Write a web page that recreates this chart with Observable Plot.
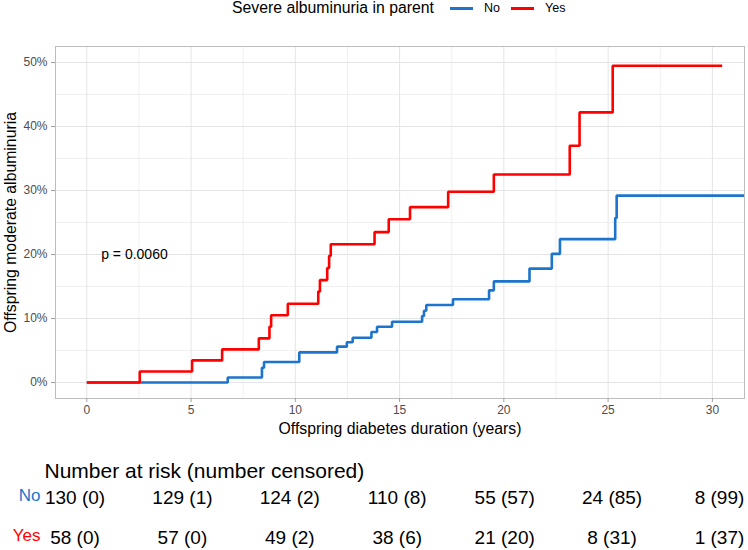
<!DOCTYPE html>
<html>
<head>
<meta charset="utf-8">
<script src="https://cdn.jsdelivr.net/npm/d3@7"></script>
<script src="https://cdn.jsdelivr.net/npm/@observablehq/plot@0.6"></script>
<style>
  body { margin: 0; background: #fff; font-family: "Liberation Sans", Arial, Helvetica, sans-serif; }
  #chart { width: 748px; height: 550px; position: relative; overflow: hidden; background: #fff; }
  .legend { position: relative; height: 30px; }
  .legend span { position: absolute; top: 0; line-height: 16px; white-space: nowrap; color: #000; }
  .legend .key { position: absolute; top: 7px; width: 23px; height: 2.6px; }
  svg { display: block; }
</style>
</head>
<body>
<div id="chart"></div>
<script>
// Strata and their colours
const groups = ["No", "Yes"];
const groupColors = ["#1c74cd", "#ff0000"];

// Cumulative incidence of moderate albuminuria (1 - KM survival), parent without severe albuminuria
const noTime = [0, 6.76, 8.4, 8.5, 10.19, 12.0, 12.47, 12.75, 13.65, 13.92, 14.64, 16.08, 16.17, 16.28, 17.56, 19.29, 19.52, 21.23, 22.3, 22.69, 25.34, 25.41, 31.54];
const noInc = [0, 0.0078, 0.023, 0.032, 0.047, 0.056, 0.063, 0.070, 0.079, 0.087, 0.095, 0.104, 0.112, 0.121, 0.130, 0.144, 0.158, 0.178, 0.201, 0.224, 0.257, 0.292, 0.292];

// Parent with severe albuminuria
const yesTime = [0, 2.54, 5.05, 6.49, 8.25, 8.76, 8.84, 9.64, 11.1, 11.18, 11.53, 11.62, 11.7, 13.8, 14.48, 15.5, 17.33, 19.52, 23.16, 23.63, 25.22, 30.47];
const yesInc = [0, 0.0172, 0.0345, 0.0517, 0.069, 0.087, 0.105, 0.123, 0.142, 0.160, 0.179, 0.198, 0.216, 0.235, 0.255, 0.274, 0.298, 0.325, 0.370, 0.422, 0.495, 0.495];

// Axis ticks and grid
const xTicks = [0, 5, 10, 15, 20, 25, 30];
const xMinor = [2.5, 7.5, 12.5, 17.5, 22.5, 27.5];
const yTicks = [0, 0.1, 0.2, 0.3, 0.4, 0.5];
const yMinor = [0.05, 0.15, 0.25, 0.35, 0.45];

// Number at risk table
const riskTimes = [0, 5, 10, 15, 20, 25, 30];
const atRiskNo = [130, 129, 124, 110, 55, 24, 8];
const censoredNo = [0, 1, 2, 8, 57, 85, 99];
const atRiskYes = [58, 57, 49, 38, 21, 8, 1];
const censoredYes = [0, 0, 2, 6, 20, 31, 37];

const pValueText = "p = 0.0060";

const font = "'Liberation Sans', Arial, Helvetica, sans-serif";

const curveRows = [
  ...noTime.map((t, i) => ({group: "No", time: t, inc: noInc[i]})),
  ...yesTime.map((t, i) => ({group: "Yes", time: t, inc: yesInc[i]}))
];

const riskRows = [
  ...riskTimes.map((t, i) => ({group: "No", time: t, label: `${atRiskNo[i]} (${censoredNo[i]})`})),
  ...riskTimes.map((t, i) => ({group: "Yes", time: t, label: `${atRiskYes[i]} (${censoredYes[i]})`}))
];

const chart = document.getElementById("chart");

// Legend row
const legend = document.createElement("div");
legend.className = "legend";
legend.innerHTML = `
  <span style="left:232px;font-size:15.8px">Severe albuminuria in parent</span>
  <div class="key" style="left:450px;background:${groupColors[0]}"></div>
  <span style="left:484px;font-size:12.5px">${groups[0]}</span>
  <div class="key" style="left:511px;background:${groupColors[1]}"></div>
  <span style="left:545px;font-size:12.5px">${groups[1]}</span>`;
chart.appendChild(legend);

const main = Plot.plot({
  width: 748,
  height: 415,
  marginTop: 16,
  marginBottom: 47,
  marginLeft: 55,
  marginRight: 4,
  style: {fontFamily: font, background: "#fff", color: "#000"},
  x: {domain: [-1.5, 31.54]},
  y: {domain: [-0.025, 0.525]},
  color: {domain: groups, range: groupColors},
  marks: [
    Plot.ruleX(xMinor, {stroke: "#ececec", strokeWidth: 0.8}),
    Plot.ruleY(yMinor, {stroke: "#ececec", strokeWidth: 0.8}),
    Plot.ruleX(xTicks, {stroke: "#e4e4e4", strokeWidth: 1}),
    Plot.ruleY(yTicks, {stroke: "#e4e4e4", strokeWidth: 1}),
    Plot.frame({stroke: "#bdbdbd", strokeWidth: 1}),
    Plot.axisX(xTicks, {tickSize: 4, tickPadding: 3, fontSize: 12, stroke: "#a0a0a0", fill: "#4d4d4d", label: null}),
    Plot.axisY(yTicks, {tickSize: 4, tickPadding: 4, fontSize: 12, stroke: "#a0a0a0", fill: "#4d4d4d", label: null, tickFormat: d3.format(".0%")}),
    Plot.line(curveRows, {x: "time", y: "inc", z: "group", stroke: "group", curve: "step-after", strokeWidth: 2.6, strokeLinecap: "butt", strokeLinejoin: "miter", clip: true}),
    Plot.text([pValueText], {x: 0.69, y: 0.2, textAnchor: "start", fontSize: 14, fill: "#000"}),
    Plot.text(["Offspring diabetes duration (years)"], {frameAnchor: "bottom", dy: 35, lineAnchor: "bottom", fontSize: 15.8, fill: "#000"}),
    Plot.text(["Offspring moderate albuminuria"], {frameAnchor: "left", dx: -40, rotate: -90, textAnchor: "middle", lineAnchor: "bottom", fontSize: 15.8, fill: "#000"})
  ]
});
chart.appendChild(main);

const table = Plot.plot({
  width: 748,
  height: 105,
  margin: 0,
  style: {fontFamily: font, background: "#fff", color: "#000"},
  x: {domain: [0, 30], range: [74.5, 719], axis: null},
  y: {type: "point", domain: groups, range: [52, 92], padding: 0, axis: null},
  color: {domain: groups, range: groupColors},
  marks: [
    Plot.text(["Number at risk (number censored)"], {frameAnchor: "top-left", dx: 44, dy: 18, textAnchor: "start", fontSize: 21, fill: "#000"}),
    Plot.text(riskRows, {x: "time", y: "group", text: "label", fontSize: 19, fill: "#000"}),
    Plot.text(groups, {y: d => d, frameAnchor: "left", dx: 40, dy: -2, textAnchor: "end", fontSize: 17, fill: d => d})
  ]
});
chart.appendChild(table);
</script>
</body>
</html>
